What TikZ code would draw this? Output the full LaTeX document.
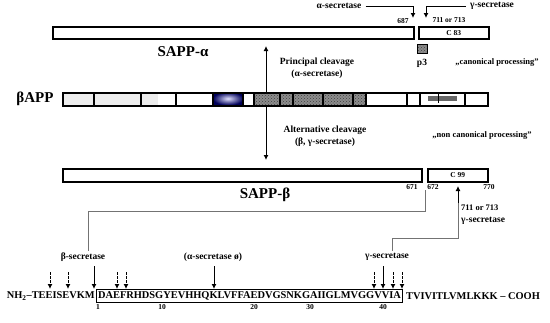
\documentclass[tikz,border=0pt]{standalone}
\usepackage{fontspec}
\setmainfont{Liberation Serif}
\usetikzlibrary{patterns,arrows.meta}
\begin{document}
\begin{tikzpicture}[x=1pt,y=-1pt,
  every node/.style={inner sep=0pt},
  bar/.style={draw, line width=1.6pt, anchor=north west, inner sep=0pt},
  lab/.style={font=\bfseries\fontsize{9.5}{12}\selectfont, align=center},
  small/.style={font=\bfseries\fontsize{8.5}{10}\selectfont},
  big/.style={font=\bfseries\fontsize{15}{17}\selectfont},
  num/.style={font=\bfseries\fontsize{7.5}{9}\selectfont},
  seq/.style={font=\bfseries\fontsize{10.4}{12}\selectfont},
  arr/.style={-{Latex[length=5pt,width=5pt]}, line width=1pt},
  darr/.style={arr, dash pattern=on 2.5pt off 1.5pt},
  brk/.style={draw=black!55, line width=1pt},
  light/.style={fill=black!7},
  hatchbg/.style={fill=black!45},
  hatch/.style={pattern=crosshatch dots, pattern color=black!75}
]
\useasboundingbox (0,0) rectangle (550,322);

% ---------- top row: SAPP-alpha and C83 ----------
\node[bar, minimum width=361pt, minimum height=12pt] (sappa) at (52,26) {};
\node[bar, minimum width=70pt, minimum height=12pt, num] (c83) at (418,26) {C 83};
\fill[hatchbg] (417,44) rectangle (427,53);
\fill[hatch] (417,44) rectangle (427,53);
\node[draw, line width=1.2pt, minimum width=10pt, minimum height=9pt, anchor=north west] (p3box) at (417,44) {};

\node[lab] (asec) at (339,6) {α-secretase};
\node[lab] (gsec) at (492,6) {γ-secretase};
\coordinate (acut) at (413,18);
\coordinate (gcut) at (426,18);
\draw[arr] ([xshift=4pt]asec.east) -| (acut);
\draw[arr] ([xshift=-4pt]gsec.west) -| (gcut);
\node[num] (n687) at (403,21) {687};
\node[num] (n711a) at (449,20) {711 or 713};

\node[big] (sappalab) at (183,52) {SAPP-α};
\node[lab] (p3) at (422,63) {p3};
\node[small] (canon) at (497,62) {„canonical processing"};
\node[lab] (princ) at (317,68) {Principal cleavage\\(α-secretase)};

% ---------- beta APP ----------
\fill[light] (62,92) rectangle (141,105);
\fill[light] (141,92) rectangle (158,105);
\shade[inner color=blue!12!white, outer color=blue!35!black] (213,92) rectangle (243,105);
\fill[hatchbg] (254,92) rectangle (366,105);
\fill[hatch] (254,92) rectangle (366,105);
\fill[black!60] (428,96) rectangle (457,101);
\draw[line width=0.6pt] (438,94) -- (438,103);
\foreach \xx in {94,141,176,213,243,254,280,293,323,353,366,407,420,465}
  \draw[line width=1.2pt] (\xx,92) -- (\xx,105);
\node[bar, minimum width=425pt, minimum height=13pt] (bapp) at (62,92) {};
\node[big] (bapplab) at (35,99) {βAPP};

\coordinate (uptip) at (266,46);
\coordinate (dntip) at (266,160);
\draw[arr] (bapp.north -| uptip) -- (uptip);
\draw[arr] (bapp.south -| dntip) -- (dntip);

\node[lab] (alt) at (325,136) {Alternative cleavage\\(β, γ-secretase)};
\node[small] (noncanon) at (482,135) {„non canonical processing"};

% ---------- SAPP-beta and C99 ----------
\node[bar, minimum width=359pt, minimum height=13pt] (sappb) at (62,168) {};
\node[bar, minimum width=60pt, minimum height=13pt, num] (c99) at (427,168) {C 99};
\node[num] (n671) at (412,187) {671};
\node[num] (n672) at (433,187) {672};
\node[num] (n770) at (489,187) {770};
\node[big] (sappblab) at (265,195) {SAPP-β};

\node[small, anchor=west] (n711b) at (461,208) {711 or 713};
\node[lab, anchor=west] (gsecb) at (461,221) {γ-secretase};

% ---------- bottom labels ----------
\node[lab] (bsec) at (83,257) {β-secretase};
\node[lab] (asec2) at (213,257) {(α-secretase ø)};
\node[lab] (gsec2) at (387,257) {γ-secretase};

% brackets
\coordinate (k1) at (425,190);
\coordinate (k2) at (88,251);
\draw[brk] (k1) -- (425,211) -- (88,211) -- (k2);
\coordinate (k3) at (392,251);
\coordinate (gtip) at (458,186);
\draw[brk] (k3) -- (392,238) -- (458,238) -- (458,202);
\draw[arr] (458,203) -- (gtip);

% ---------- sequence ----------
\node[seq, anchor=east] (nterm) at (95,296) {NH\textsubscript{2}–TEEISEVKM};
\node[seq, draw, line width=1.1pt, anchor=west, inner xsep=1.5pt, inner ysep=2pt] (abeta) at (96,296) {DAEFRHDSGYEVHHQKLVFFAEDVGSNKGAIIGLMVGGVVIA};
\node[seq, anchor=west] (cterm) at (406,296) {TVIVITLVMLKKK – COOH};

\node[num] (r1) at (98,307) {1};
\node[num] (r10) at (162,307) {10};
\node[num] (r20) at (254,307) {20};
\node[num] (r30) at (310,307) {30};
\node[num] (r40) at (383,307) {40};

% cleavage arrows
\foreach \xx/\nm in {50/d1,68/d2,117/d3,126/d4,374/d5,393/d6,402/d7}{
  \coordinate (\nm) at (\xx,289);
  \draw[darr] (\xx,272) -- (\nm);
}
\foreach \xx/\nm in {94/s1,214/s2,383/s3}{
  \coordinate (\nm) at (\xx,289);
  \draw[arr] (\xx,266) -- (\nm);
}
\end{tikzpicture}
\end{document}
